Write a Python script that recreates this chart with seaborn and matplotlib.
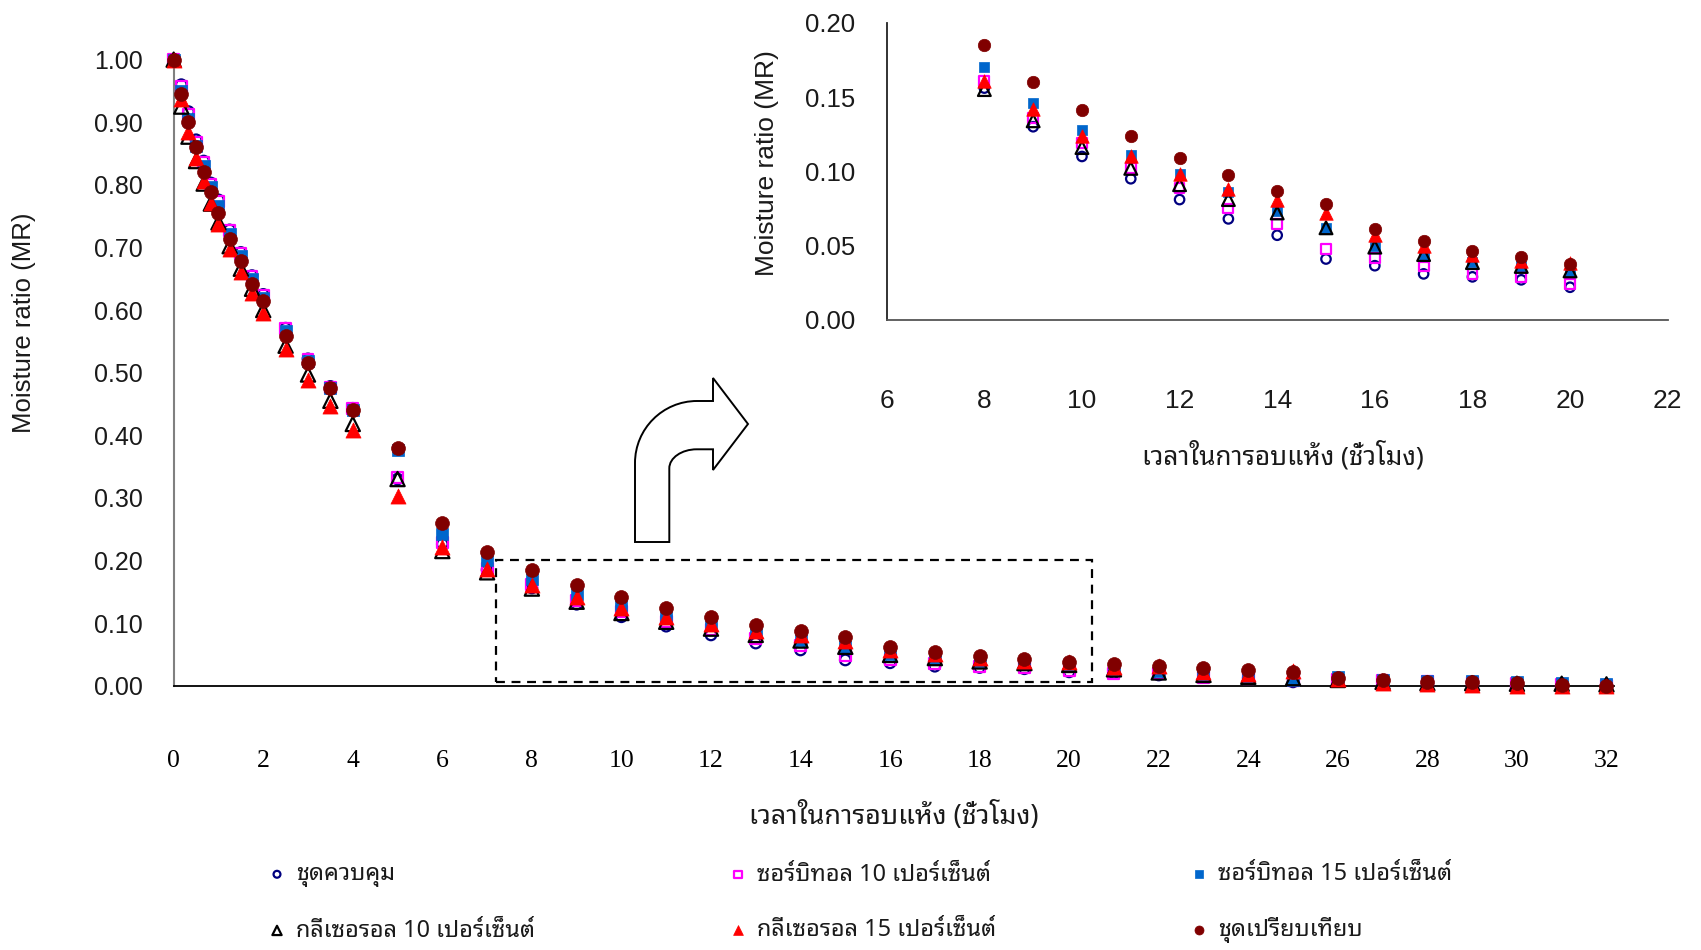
import matplotlib
matplotlib.use("Agg")
import matplotlib.pyplot as plt
import matplotlib.patches as mpatches
from matplotlib.path import Path
from matplotlib import font_manager as fm
import numpy as np
import pandas as pd
import seaborn as sns

# Drying time (h)
time_h = [0, 0.17, 0.33, 0.5, 0.67, 0.83, 1, 1.25, 1.5, 1.75, 2, 2.5, 3, 3.5, 4, 5,
          6, 7, 8, 9, 10, 11, 12, 13, 14, 15, 16, 17, 18, 19, 20,
          21, 22, 23, 24, 25, 26, 27, 28, 29, 30, 31, 32]

# Moisture ratio per treatment
mr_control = [1.000, 0.960, 0.917, 0.872, 0.838, 0.803, 0.776, 0.728, 0.692, 0.655, 0.625, 0.571, 0.522, 0.478, 0.443, 0.330,
              0.226, 0.185, 0.156, 0.130, 0.110, 0.095, 0.081, 0.068, 0.057, 0.041, 0.0365, 0.031, 0.029, 0.027, 0.022,
              0.020, 0.017, 0.015, 0.012, 0.006, 0.010, 0.008, 0.006, 0.005, 0.004, 0.003, 0.001]
mr_sorb10 = [1.000, 0.957, 0.913, 0.868, 0.836, 0.801, 0.774, 0.727, 0.691, 0.654, 0.624, 0.570, 0.521, 0.477, 0.442, 0.332,
             0.228, 0.187, 0.161, 0.136, 0.119, 0.102, 0.089, 0.075, 0.0646, 0.048, 0.0415, 0.036, 0.031, 0.0287, 0.0244,
             0.019, 0.019, 0.013, 0.011, 0.008, 0.010, 0.008, 0.006, 0.005, 0.004, 0.002, 0.001]
mr_sorb15 = [1.000, 0.950, 0.905, 0.862, 0.830, 0.796, 0.766, 0.721, 0.686, 0.649, 0.619, 0.566, 0.519, 0.475, 0.440, 0.377,
             0.243, 0.200, 0.170, 0.146, 0.128, 0.111, 0.098, 0.086, 0.0735, 0.062, 0.050, 0.044, 0.039, 0.036, 0.0325,
             0.027, 0.024, 0.018, 0.013, 0.0096, 0.013, 0.009, 0.008, 0.008, 0.005, 0.004, 0.002]
mr_gly10 = [1.000, 0.925, 0.877, 0.838, 0.802, 0.770, 0.740, 0.702, 0.666, 0.634, 0.600, 0.543, 0.497, 0.455, 0.418, 0.330,
            0.215, 0.181, 0.155, 0.134, 0.116, 0.102, 0.091, 0.081, 0.072, 0.062, 0.049, 0.044, 0.0386, 0.036, 0.033,
            0.026, 0.021, 0.017, 0.014, 0.012, 0.009, 0.006, 0.004, 0.004, 0.003, 0.003, 0.002]
mr_gly15 = [1.000, 0.937, 0.885, 0.843, 0.806, 0.771, 0.737, 0.697, 0.660, 0.628, 0.595, 0.538, 0.489, 0.446, 0.408, 0.303,
            0.222, 0.186, 0.161, 0.142, 0.124, 0.110, 0.098, 0.088, 0.081, 0.072, 0.057, 0.050, 0.044, 0.040, 0.038,
            0.030, 0.032, 0.021, 0.018, 0.024, 0.011, 0.004, 0.003, 0.001, 0.000, 0.000, 0.000]
mr_reference = [1.000, 0.945, 0.900, 0.860, 0.821, 0.788, 0.755, 0.713, 0.678, 0.642, 0.614, 0.559, 0.515, 0.475, 0.440, 0.379,
                0.259, 0.213, 0.185, 0.160, 0.141, 0.124, 0.109, 0.0975, 0.087, 0.078, 0.061, 0.053, 0.0466, 0.0426, 0.0374,
                0.034, 0.031, 0.028, 0.025, 0.021, 0.012, 0.009, 0.0064, 0.0064, 0.0037, 0.001, 0.000]

series_names = ["ชุดควบคุม", "ซอร์บิทอล 10 เปอร์เซ็นต์", "ซอร์บิทอล 15 เปอร์เซ็นต์",
                "กลีเซอรอล 10 เปอร์เซ็นต์", "กลีเซอรอล 15 เปอร์เซ็นต์", "ชุดเปรียบเทียบ"]
series_values = [mr_control, mr_sorb10, mr_sorb15, mr_gly10, mr_gly15, mr_reference]

x_label = "เวลาในการอบแห้ง (ชั่วโมง)"
y_label = "Moisture ratio (MR)"
main_xticks = list(range(0, 33, 2))
main_yticks = [0.0, 0.1, 0.2, 0.3, 0.4, 0.5, 0.6, 0.7, 0.8, 0.9, 1.0]
inset_xticks = list(range(6, 23, 2))
inset_yticks = [0.0, 0.05, 0.10, 0.15, 0.20]

df = pd.concat(
    [pd.DataFrame({"time": time_h, "mr": vals, "group": name})
     for name, vals in zip(series_names, series_values)],
    ignore_index=True,
)

sns.set_style("white")
plt.rcParams["font.family"] = ["Liberation Sans", "DejaVu Sans"]
THAI = ["Noto Sans Thai Looped", "Noto Sans Thai", "DejaVu Sans"]

styles = {
    "ชุดควบคุม": dict(marker="o", facecolor="none", edgecolor="#000080", linewidth=1.6, size=58),
    "ซอร์บิทอล 10 เปอร์เซ็นต์": dict(marker="s", facecolor="none", edgecolor="#FF00FF", linewidth=1.6, size=62),
    "ซอร์บิทอล 15 เปอร์เซ็นต์": dict(marker="s", facecolor="#0066CC", edgecolor="#0066CC", linewidth=0.5, size=72),
    "กลีเซอรอล 10 เปอร์เซ็นต์": dict(marker="^", facecolor="none", edgecolor="#000000", linewidth=1.6, size=105),
    "กลีเซอรอล 15 เปอร์เซ็นต์": dict(marker="^", facecolor="#FF0000", edgecolor="#FF0000", linewidth=0.5, size=118),
    "ชุดเปรียบเทียบ": dict(marker="o", facecolor="#800000", edgecolor="#800000", linewidth=0.5, size=100),
}

W, H = 1701.0, 950.0
fig = plt.figure(figsize=(W / 100, H / 100), dpi=100)
ax = fig.add_axes([0.1021, 0.2783, 0.8468, 0.6589])
ins = fig.add_axes([0.5213, 0.6632, 0.4591, 0.3129])
renderer = fig.canvas.get_renderer()


def fitted_size(text, family, target_px, ref=20.0):
    t = fig.text(0, 0, text, family=family, fontsize=ref)
    w = t.get_window_extent(renderer).width
    t.remove()
    return ref * target_px / w


def draw_series(axis, frame, scale):
    for z, name in enumerate(series_names):
        st = styles[name]
        sub = frame[frame["group"] == name]
        sns.scatterplot(data=sub, x="time", y="mr", ax=axis, marker=st["marker"],
                        s=st["size"] * scale, facecolor=st["facecolor"], edgecolor=st["edgecolor"],
                        color=st["edgecolor"], linewidth=st["linewidth"], label=name,
                        legend=False, zorder=3 + z, clip_on=False)


draw_series(ax, df, 1.0)
draw_series(ins, df[(df["time"] >= 8) & (df["time"] <= 20)], 0.8)

# main axes
ax.set_xlim(0, 32.17)
ax.set_ylim(0, 1.0)
ax.set_xticks(main_xticks)
ax.set_yticks(main_yticks)
ax.set_yticklabels([f"{v:.2f}" for v in main_yticks])
ax.set_xticklabels([str(v) for v in main_xticks])
for s in ["top", "right"]:
    ax.spines[s].set_visible(False)
ax.spines["left"].set_color("#808080")
ax.spines["left"].set_linewidth(1.5)
ax.spines["bottom"].set_color("#000000")
ax.spines["bottom"].set_linewidth(1.3)
ax.tick_params(axis="y", direction="out", length=9, width=1.1, pad=13, labelsize=18,
               color="#333333", labelcolor="#1a1a1a")
ax.tick_params(axis="x", direction="out", length=10, width=1.1, pad=36, labelsize=18.5,
               color="#333333", labelcolor="#000000")
for lbl in ax.get_xticklabels():
    lbl.set_fontfamily(["Liberation Serif", "DejaVu Serif"])

ax.set_xlabel(x_label, family=THAI, fontsize=fitted_size(x_label, THAI, 290), color="#1a1a1a")
ax.xaxis.set_label_coords(0.5, -0.2083)
ax.xaxis.label.set_va("center")
ax.set_ylabel(y_label, fontsize=18.5, color="#1a1a1a")
ax.yaxis.set_label_coords(-0.1039, 0.5798)
ax.yaxis.label.set_va("center")

# zoom frame around 7-20 h
ax.add_patch(mpatches.Rectangle((7.2, 0.005), 13.3, 0.195, fill=False, edgecolor="black",
                                linewidth=1.6, linestyle=(0, (4, 3)), zorder=2))

# inset axes
ins.set_xlim(6, 22)
ins.set_ylim(0, 0.2)
ins.set_xticks(inset_xticks)
ins.set_yticks(inset_yticks)
ins.set_yticklabels([f"{v:.2f}" for v in inset_yticks])
ins.set_xticklabels([str(v) for v in inset_xticks])
ins.patch.set_alpha(0)
for s in ["top", "right"]:
    ins.spines[s].set_visible(False)
ins.spines["left"].set_color("#222222")
ins.spines["bottom"].set_color("#555555")
ins.spines["left"].set_linewidth(1.3)
ins.spines["bottom"].set_linewidth(1.3)
ins.tick_params(axis="y", direction="out", length=9.5, width=1.1, pad=13, labelsize=18.5,
                color="#333333", labelcolor="#1a1a1a")
ins.tick_params(axis="x", direction="out", length=9.5, width=1.1, pad=40, labelsize=19,
                color="#333333", labelcolor="#1a1a1a")
ins.set_xlabel(x_label, family=THAI, fontsize=fitted_size(x_label, THAI, 282), color="#1a1a1a")
ins.xaxis.set_label_coords(0.5074, -0.4575)
ins.xaxis.label.set_va("center")
ins.set_ylabel(y_label, fontsize=19, color="#1a1a1a")
ins.yaxis.set_label_coords(-0.1533, 0.5281)
ins.yaxis.label.set_va("center")

# bent arrow pointing from the frame to the inset
pts = [(635, 542), (635, 463), (635, 428.8), (662.8, 401), (697, 401), (713, 401), (713, 378),
       (748, 424), (713, 470), (713, 449.3), (696.7, 449.3), (681.8, 449.3), (669.3, 457.8),
       (669.3, 468.3), (669.3, 542), (635, 542)]
codes = [Path.MOVETO, Path.LINETO, Path.CURVE4, Path.CURVE4, Path.CURVE4, Path.LINETO, Path.LINETO,
         Path.LINETO, Path.LINETO, Path.LINETO, Path.LINETO, Path.CURVE4, Path.CURVE4, Path.CURVE4,
         Path.LINETO, Path.CLOSEPOLY]
verts = [(x / W, 1 - y / H) for x, y in pts]
fig.add_artist(mpatches.PathPatch(Path(verts, codes), facecolor="white", edgecolor="black",
                                  linewidth=1.4, transform=fig.transFigure))

# legend: three columns of two rows
handles, labels = ax.get_legend_handles_labels()
hmap = dict(zip(labels, handles))
LS = fitted_size(series_names[2], THAI, 234)
em = LS * 100 / 72
cols = [(277, series_names[0], series_names[3]),
        (738, series_names[1], series_names[4]),
        (1199, series_names[2], series_names[5])]
for cx, a, b in cols:
    fig.legend([hmap[a], hmap[b]], [a, b], loc="center left",
               bbox_to_anchor=((cx - 0.5 * em) / W, 1 - 902.5 / H),
               frameon=False, borderpad=0, borderaxespad=0, handlelength=1.0,
               handletextpad=0.3, labelspacing=1.33, markerscale=0.65,
               labelcolor="#1a1a1a", prop=fm.FontProperties(family=THAI, size=LS))

fig.savefig("out.png", dpi=100)
